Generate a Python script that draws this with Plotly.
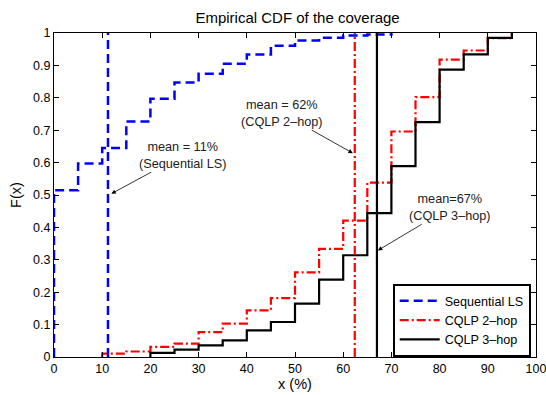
import plotly.graph_objects as go

# ---- data ----
seq_x = [0, 0, 5, 10, 15, 20, 25, 30, 35, 40, 45, 50, 55, 60, 65, 70]
seq_y = [0, 0.515, 0.597, 0.645, 0.727, 0.797, 0.847, 0.874, 0.905, 0.934, 0.961, 0.977, 0.985, 0.992, 0.995, 1.0]

hop2_x = [10, 10, 15, 20, 25, 30, 35, 40, 45, 50, 55, 60, 65, 70, 75, 80, 85, 90, 95]
hop2_y = [0, 0.0105, 0.017, 0.031, 0.041, 0.077, 0.103, 0.144, 0.182, 0.261, 0.334, 0.421, 0.538, 0.696, 0.802, 0.918, 0.946, 0.984, 1.0]

hop3_x = [20, 20, 25, 30, 35, 40, 45, 50, 55, 60, 65, 70, 75, 80, 85, 90, 95]
hop3_y = [0, 0.0125, 0.023, 0.036, 0.0515, 0.082, 0.108, 0.165, 0.239, 0.314, 0.444, 0.589, 0.725, 0.887, 0.934, 0.985, 1.0]

series_names = ["Sequential LS", "CQLP 2–hop", "CQLP 3–hop"]
series_means = [11.2, 62.4, 67.0]
mean_labels = ["mean = 11%<br>(Sequential LS)", "mean = 62%<br>(CQLP 2–hop)", "mean=67%<br>(CQLP 3–hop)"]
label_pos = [(26.7, 0.623), (47.2, 0.753), (82.2, 0.462)]
arrow_head = [(11.9, 0.504), (62.0, 0.629), (67.2, 0.329)]

x_ticks = list(range(0, 101, 10))
y_ticks = [i / 10 for i in range(11)]
y_ticktext = ["0"] + [f"{v:.1f}" for v in y_ticks[1:-1]] + ["1"]

colors = ["#0000ff", "#ff0000", "#000000"]
dashes = ["9px,5px", "9px,3px,2px,3px", "solid"]
widths = [2.5, 2.2, 2.2]

FONT = "Liberation Sans, Arial, Helvetica, sans-serif"

fig = go.Figure()
for name, xs, ys, c, d, w in zip(series_names, [seq_x, hop2_x, hop3_x], [seq_y, hop2_y, hop3_y], colors, dashes, widths):
    fig.add_trace(go.Scatter(x=xs, y=ys, mode="lines", name=name, line_shape="hv",
                             line=dict(color=c, dash=d, width=w)))

for m, c, d, w in zip(series_means, colors, dashes, widths):
    fig.add_trace(go.Scatter(x=[m, m], y=[0, 1], mode="lines", showlegend=False,
                             line=dict(color=c, dash=d, width=w)))

for txt, (tx, ty), (hx, hy) in zip(mean_labels, label_pos, arrow_head):
    fig.add_annotation(x=hx, y=hy, ax=tx, ay=ty, xref="x", yref="y", axref="x", ayref="y",
                       text=txt, showarrow=True, arrowhead=2, arrowsize=1.1, arrowwidth=0.8,
                       arrowcolor="#000000", font=dict(family=FONT, size=12.7, color="#222222"),
                       align="center")

axis_common = dict(showline=True, linecolor="#000000", linewidth=1, mirror="ticks",
                   ticks="inside", ticklen=5, tickcolor="#000000", showgrid=False, zeroline=False,
                   automargin=False, ticklabeloverflow="allow",
                   tickfont=dict(family=FONT, size=12.5, color="#000000"))

fig.update_layout(
    width=546, height=395,
    margin=dict(l=54, r=10, t=33, b=38),
    paper_bgcolor="white", plot_bgcolor="white",
    title=dict(text="Empirical CDF of the coverage", x=0.545, xanchor="center", y=0.955, yanchor="middle",
               font=dict(family=FONT, size=15, color="#000000")),
    xaxis=dict(range=[0, 100], tickvals=x_ticks, ticktext=[str(v) for v in x_ticks],
               title=dict(text="x (%)", font=dict(family=FONT, size=14.5, color="#000000"), standoff=3),
               **axis_common),
    yaxis=dict(range=[0, 1], tickvals=y_ticks, ticktext=y_ticktext,
               title=dict(text="F(x)", font=dict(family=FONT, size=14.5, color="#000000"), standoff=8),
               **axis_common),
    legend=dict(x=0.989, xanchor="right", y=0.0, yanchor="bottom",
                bgcolor="white", bordercolor="#000000", borderwidth=2,
                font=dict(family=FONT, size=12.6, color="#000000"),
                tracegroupgap=0, itemwidth=40, entrywidth=148, entrywidthmode="pixels"),
    showlegend=True,
)

fig.write_html("out.html")
